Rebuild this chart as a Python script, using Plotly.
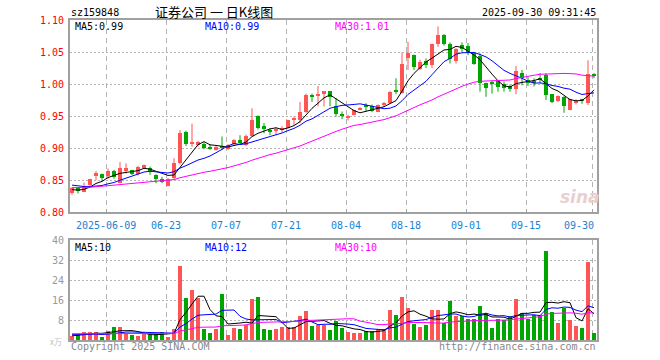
import plotly.graph_objects as go
import pandas as pd

# ---------------- data ----------------
open_ = [0.830, 0.837, 0.832, 0.842, 0.857, 0.859, 0.856, 0.864, 0.846, 0.865,
         0.865, 0.859, 0.870, 0.869, 0.858, 0.852, 0.841, 0.853, 0.876, 0.925,
         0.906, 0.904, 0.907, 0.900, 0.897, 0.903, 0.898, 0.907, 0.912, 0.904,
         0.919, 0.950, 0.934, 0.927, 0.927, 0.929, 0.932, 0.944, 0.944, 0.957,
         0.981, 0.982, 0.985, 0.989, 0.966, 0.953, 0.948, 0.952, 0.960, 0.966,
         0.966, 0.957, 0.968, 0.970, 0.990, 0.986, 1.040, 1.045, 1.023, 1.036,
         1.030, 1.062, 1.077, 1.063, 1.036, 1.061, 1.060, 1.048, 1.044, 1.001,
         1.003, 1.005, 1.000, 0.997, 0.992, 1.017, 1.006, 1.004, 1.010, 1.014,
         0.984, 0.973, 0.980, 0.960, 0.970, 0.976, 0.971, 1.016]
high = [0.839, 0.838, 0.846, 0.852, 0.864, 0.860, 0.868, 0.866, 0.878, 0.876,
        0.866, 0.872, 0.874, 0.871, 0.859, 0.855, 0.853, 0.884, 0.928, 0.927,
        0.938, 0.911, 0.909, 0.905, 0.903, 0.918, 0.906, 0.914, 0.920, 0.921,
        0.962, 0.951, 0.939, 0.931, 0.932, 0.934, 0.944, 0.949, 0.972, 0.985,
        0.985, 0.997, 0.989, 0.989, 0.978, 0.957, 0.952, 0.960, 0.964, 0.970,
        0.968, 0.968, 0.972, 0.989, 1.009, 1.049, 1.066, 1.046, 1.038, 1.040,
        1.063, 1.090, 1.078, 1.065, 1.056, 1.065, 1.064, 1.049, 1.048, 1.002,
        1.005, 1.006, 1.004, 0.999, 1.028, 1.022, 1.011, 1.009, 1.017, 1.017,
        0.984, 0.982, 0.981, 0.977, 0.976, 0.977, 1.037, 1.017]
low = [0.827, 0.829, 0.831, 0.840, 0.850, 0.848, 0.852, 0.852, 0.845, 0.860,
       0.858, 0.857, 0.868, 0.858, 0.845, 0.845, 0.840, 0.851, 0.874, 0.903,
       0.902, 0.902, 0.898, 0.897, 0.896, 0.897, 0.897, 0.905, 0.905, 0.903,
       0.918, 0.929, 0.923, 0.920, 0.920, 0.924, 0.931, 0.936, 0.939, 0.955,
       0.972, 0.965, 0.965, 0.965, 0.949, 0.945, 0.943, 0.951, 0.959, 0.957,
       0.956, 0.956, 0.964, 0.969, 0.984, 0.985, 1.022, 1.022, 1.022, 1.025,
       1.025, 1.058, 1.060, 1.032, 1.032, 1.050, 1.045, 1.030, 0.988, 0.980,
       0.985, 0.988, 0.988, 0.988, 0.984, 0.998, 0.997, 0.996, 1.001, 0.975,
       0.970, 0.972, 0.955, 0.959, 0.968, 0.969, 0.967, 1.009]
close = [0.837, 0.834, 0.840, 0.851, 0.861, 0.853, 0.864, 0.855, 0.869, 0.868,
         0.860, 0.871, 0.873, 0.863, 0.851, 0.847, 0.852, 0.876, 0.924, 0.907,
         0.910, 0.909, 0.900, 0.899, 0.902, 0.901, 0.905, 0.913, 0.908, 0.919,
         0.944, 0.931, 0.929, 0.926, 0.928, 0.931, 0.943, 0.947, 0.957, 0.983,
         0.980, 0.983, 0.989, 0.980, 0.953, 0.951, 0.949, 0.959, 0.963, 0.965,
         0.958, 0.967, 0.969, 0.988, 0.988, 1.032, 1.048, 1.027, 1.035, 1.030,
         1.062, 1.077, 1.062, 1.039, 1.054, 1.054, 1.048, 1.032, 1.002, 0.994,
         1.001, 0.996, 0.993, 0.992, 1.021, 1.010, 1.001, 1.003, 1.006, 0.983,
         0.972, 0.981, 0.966, 0.976, 0.974, 0.974, 1.016, 1.014]
volume = [1.6, 2.4, 3.2, 3.2, 3.2, 1.3, 3.6, 5.2, 5.2, 2.8,
          2.0, 1.6, 2.5, 1.9, 2.5, 3.2, 1.3, 4.3, 29.6, 16.8,
          20.0, 16.8, 4.4, 2.8, 4.4, 18.4, 2.0, 4.8, 4.4, 6.0,
          16.5, 17.3, 4.4, 4.0, 4.4, 5.2, 5.2, 5.2, 9.6, 11.6,
          5.7, 6.0, 6.1, 4.0, 7.6, 4.7, 3.1, 2.8, 2.8, 3.6,
          3.6, 4.3, 4.3, 12.0, 10.0, 17.2, 12.8, 6.4, 5.2, 6.0,
          12.0, 12.0, 6.9, 15.7, 9.6, 9.7, 8.5, 8.4, 13.6, 10.8,
          4.8, 8.4, 8.0, 9.6, 16.5, 10.8, 8.4, 10.0, 10.0, 35.7,
          11.3, 6.9, 12.7, 8.0, 5.7, 4.8, 31.3, 2.8]
# closes / volumes before the visible window (estimated from the starting MA levels)
prior_close = [0.832, 0.834, 0.836, 0.838, 0.835, 0.833, 0.836, 0.838, 0.840, 0.837,
               0.835, 0.834, 0.836, 0.838, 0.837, 0.835, 0.834, 0.836, 0.838, 0.837,
               0.846, 0.850, 0.852, 0.849, 0.848, 0.838, 0.834, 0.833, 0.833]
prior_volume = [2.4, 3.1, 2.2, 2.8, 2.5, 2.9, 2.3, 2.6, 3.0, 2.4,
                2.7, 2.5, 2.2, 2.9, 2.6, 2.8, 2.4, 2.6, 2.5, 2.8,
                3.1, 2.6, 2.9, 2.5, 2.9, 1.8, 1.5, 1.9, 1.6]
tick_idx = [6, 16, 26, 36, 46, 56, 66, 76, 87]
tick_labels = ["2025-06-09", "06-23", "07-07", "07-21", "08-04", "08-18", "09-01", "09-15", "09-30"]
price_ticks = [0.80, 0.85, 0.90, 0.95, 1.00, 1.05, 1.10]
vol_ticks = [8, 16, 24, 32, 40]
ma_price_labels = ["MA5:0.99", "MA10:0.99", "MA30:1.01"]
ma_vol_labels = ["MA5:10", "MA10:12", "MA30:10"]

# ---------------- derived ----------------
n = len(close)
idx = list(range(n))
fc = pd.Series(prior_close + close)
fv = pd.Series(prior_volume + volume)
ma = {k: fc.rolling(k).mean().iloc[-n:].tolist() for k in (5, 10, 30)}
vma = {k: fv.rolling(k).mean().iloc[-n:].tolist() for k in (5, 10, 30)}

RED = '#ff5555'
GREEN = '#00a600'
MA_COL = {5: '#000000', 10: '#0000ff', 30: '#ff00ff'}
MONO = 'DejaVu Sans Mono'
GRID = '#b4b4b4'
BORDER = '#a0a0a0'

up = [c >= o for o, c in zip(open_, close)]
colors = [RED if u else GREEN for u in up]

fig = go.Figure()

# wicks
for flag, col in ((True, RED), (False, GREEN)):
    xs, ys = [], []
    for i in idx:
        if up[i] == flag:
            xs += [i, i, None]
            ys += [low[i], high[i], None]
    fig.add_trace(go.Scatter(x=xs, y=ys, mode='lines', line=dict(color=col, width=1),
                             xaxis='x', yaxis='y', hoverinfo='skip'))

# bodies
base = [min(o, c) for o, c in zip(open_, close)]
hgt = [max(abs(c - o), 0.0014) for o, c in zip(open_, close)]
fig.add_trace(go.Bar(x=idx, y=hgt, base=base, width=0.75,
                     marker=dict(color=colors, line=dict(width=0)),
                     xaxis='x', yaxis='y'))

# price MAs
for k in (5, 10, 30):
    fig.add_trace(go.Scatter(x=idx, y=ma[k], mode='lines', line=dict(color=MA_COL[k], width=1),
                             xaxis='x', yaxis='y'))

# volume
fig.add_trace(go.Bar(x=idx, y=volume, width=0.8,
                     marker=dict(color=colors, line=dict(width=0)),
                     xaxis='x2', yaxis='y2'))
for k in (5, 10, 30):
    fig.add_trace(go.Scatter(x=idx, y=vma[k], mode='lines', line=dict(color=MA_COL[k], width=1),
                             xaxis='x2', yaxis='y2'))

xr = [-1 / 3, n - 0.5]
tickvals = [t - 1 / 3 for t in tick_idx]

xcommon = dict(range=xr, tickvals=tickvals, showticklabels=False, showgrid=True,
               gridcolor=GRID, griddash='5px,4px', gridwidth=1, showline=True, mirror=True,
               linecolor=BORDER, linewidth=2, zeroline=False, fixedrange=True)

fig.update_layout(
    width=660, height=360,
    margin=dict(l=70, r=63, t=20, b=20),
    paper_bgcolor='white', plot_bgcolor='white',
    showlegend=False, bargap=0,
    xaxis=dict(anchor='y', ticks='inside', ticklen=3, tickcolor=BORDER, **xcommon),
    xaxis2=dict(anchor='y2', matches='x', ticks='', **xcommon),
    yaxis=dict(domain=[0.4, 1], anchor='x', range=[0.8, 1.1], tickvals=price_ticks,
               ticktext=[f'{v:.2f}' for v in price_ticks],
               tickfont=dict(color='#ff0000', family=MONO, size=10),
               showgrid=True, gridcolor=GRID, griddash='2px,2px', gridwidth=1,
               showline=True, mirror=True, linecolor=BORDER, linewidth=2, zeroline=False,
               ticks='', ticklabelstandoff=2),
    yaxis2=dict(domain=[0, 0.3125], anchor='x2', range=[0, 40], tickvals=vol_ticks,
                ticktext=[str(v) for v in vol_ticks],
                tickfont=dict(color='#999999', family=MONO, size=10),
                showgrid=True, gridcolor=GRID, griddash='2px,2px', gridwidth=1,
                showline=True, mirror=True, linecolor=BORDER, linewidth=2, zeroline=False,
                ticks='', ticklabelstandoff=2),
)

W, H = 527.0, 320.0


def px(xp):
    return (xp - 70) / W


def py(yp):
    return (340 - yp) / H


ann = []


def text(x, y, s, color='#000000', size=10, family=MONO, anchor='left', **kw):
    ann.append(dict(x=px(x), y=py(y), xref='paper', yref='paper', text=s, showarrow=False,
                    xanchor=anchor, yanchor='middle',
                    font=dict(color=color, size=size, family=family), **kw))


text(69, 13, 'sz159848')
text(214, 11, '证券公司 一 日K线图', size=13, family='Noto Sans CJK SC', anchor='center')
text(598, 13, '2025-09-30 09:31:45', anchor='right')

for lab, xx, k in zip(ma_price_labels, (73, 203, 333), (5, 10, 30)):
    text(xx, 27, lab, color=MA_COL[k])
for lab, xx, k in zip(ma_vol_labels, (73, 203, 333), (5, 10, 30)):
    text(xx, 247, lab, color=MA_COL[k])

# date labels
for t, lab in zip(tick_idx, tick_labels):
    xpix = 72 + 6 * t - 2
    if t == tick_idx[-1]:
        text(596, 225, lab, color='#1a82d2', anchor='right')
    else:
        text(xpix, 225, lab, color='#1a82d2', anchor='center')

text(48, 341, 'x万', color='#c0c0c0', size=8, family='Noto Sans CJK SC')
text(69, 346, 'Copyright 2025 SINA.COM', color='#888888')
text(598, 346, 'http://finance.sina.com.cn', color='#888888', anchor='right')
text(580, 197, '<b><i>sina</i></b>', color='#e9cfcf', size=17, family='DejaVu Sans', anchor='center')

fig.update_layout(annotations=ann)
fig.write_html('out.html')
